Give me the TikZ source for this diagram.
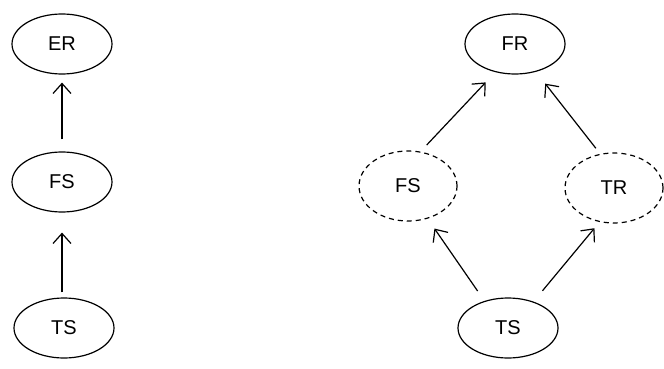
\documentclass[tikz,border=0pt]{standalone}
\usepackage{fontspec}
\setmainfont{Liberation Sans}
\usetikzlibrary{shapes.geometric,arrows.meta}
\begin{document}
\begin{tikzpicture}[x=1pt,y=-1pt,
  state/.style={ellipse,draw,line width=1.2pt,inner sep=0pt,minimum width=100pt,minimum height=60pt,font=\fontsize{20}{20}\selectfont},
  hidden/.style={ellipse,draw,line width=1.2pt,dash pattern=on 5pt off 4pt,inner sep=0pt,minimum width=98pt,minimum height=70pt,font=\fontsize{20}{20}\selectfont},
  link/.style={line width=1.2pt,-{Straight Barb[length=10pt,width=18pt,line width=1.2pt]}}]
\useasboundingbox (0,0) rectangle (664,369);
\node[state] (ER) at (62,44) {ER};
\node[state] (FS) at (62,182) {FS};
\node[state] (TS) at (64,328) {TS};
\node[state] (FR) at (515,44) {FR};
\node[hidden] (FSd) at (408,186) {FS};
\node[hidden] (TR) at (614,188) {TR};
\node[state] (TS2) at (508,328) {TS};
\draw[link,shorten <=12pt,shorten >=8pt] (FS.north) -- (ER.south);
\draw[link,shorten <=5pt,shorten >=20pt] (TS.north -| FS.south) -- (FS.south);
\draw[link,shorten <=9pt,shorten >=14pt] (FSd.70) -- (FR.235);
\draw[link,shorten <=7pt,shorten >=15pt] (TR.112) -- (FR.307);
\draw[link,shorten <=12pt,shorten >=12pt] (TS2.131) -- (FSd.301);
\draw[link,shorten <=14pt,shorten >=8pt] (TS2.46) -- (TR.247);
\end{tikzpicture}
\end{document}
